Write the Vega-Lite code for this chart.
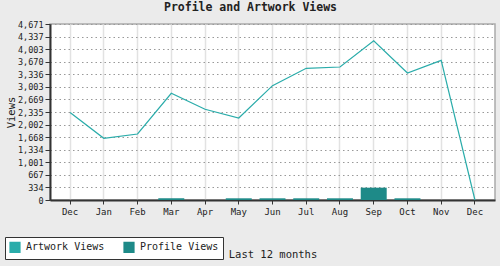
{
  "$schema": "https://vega.github.io/schema/vega-lite/v6.json",
  "width": 445,
  "height": 176,
  "autosize": "none",
  "padding": {"left": 50, "top": 24, "right": 5, "bottom": 66},
  "background": "#ebebeb",
  "title": {"text": "Profile and Artwork Views", "font": "DejaVu Sans Mono", "fontSize": 11.5, "fontWeight": "bold", "color": "#222", "anchor": "middle", "frame": "group", "dx": -22, "offset": 7},
  "config": {
    "font": "DejaVu Sans Mono",
    "view": {"fill": "white", "stroke": "#aaa", "strokeWidth": 1.5}
  },
  "data": {"values": [
    {"i": 0, "series": "Artwork Views", "views": 2320},
    {"i": 1, "series": "Artwork Views", "views": 1637},
    {"i": 2, "series": "Artwork Views", "views": 1752},
    {"i": 3, "series": "Artwork Views", "views": 2832},
    {"i": 4, "series": "Artwork Views", "views": 2407},
    {"i": 5, "series": "Artwork Views", "views": 2176},
    {"i": 6, "series": "Artwork Views", "views": 3034},
    {"i": 7, "series": "Artwork Views", "views": 3495},
    {"i": 8, "series": "Artwork Views", "views": 3530},
    {"i": 9, "series": "Artwork Views", "views": 4228},
    {"i": 10, "series": "Artwork Views", "views": 3371},
    {"i": 11, "series": "Artwork Views", "views": 3707},
    {"i": 12, "series": "Artwork Views", "views": 0},
    {"i": 0, "series": "Profile Views", "views": 0},
    {"i": 1, "series": "Profile Views", "views": 0},
    {"i": 2, "series": "Profile Views", "views": 0},
    {"i": 3, "series": "Profile Views", "views": 45},
    {"i": 4, "series": "Profile Views", "views": 0},
    {"i": 5, "series": "Profile Views", "views": 45},
    {"i": 6, "series": "Profile Views", "views": 45},
    {"i": 7, "series": "Profile Views", "views": 45},
    {"i": 8, "series": "Profile Views", "views": 45},
    {"i": 9, "series": "Profile Views", "views": 327},
    {"i": 10, "series": "Profile Views", "views": 45},
    {"i": 11, "series": "Profile Views", "views": 0},
    {"i": 12, "series": "Profile Views", "views": 0}
  ]},
  "encoding": {
    "x": {
      "field": "i", "type": "ordinal",
      "scale": {"paddingInner": 0.23, "paddingOuter": 0.21},
      "axis": {
        "title": "Last 12 months", "titleFontWeight": "normal", "titleFontSize": 10.5, "titleColor": "#222", "titlePadding": 33,
        "labelExpr": "['Dec','Jan','Feb','Mar','Apr','May','Jun','Jul','Aug','Sep','Oct','Nov','Dec'][datum.value]",
        "labelAngle": 0, "labelFontSize": 9, "labelColor": "#222", "labelPadding": 3,
        "domainColor": "#333", "domainWidth": 2, "tickColor": "#333", "tickSize": 4,
        "grid": true, "gridColor": "#e2e2e2", "gridWidth": 1.5, "bandPosition": 0.5
      }
    },
    "y": {
      "field": "views", "type": "quantitative",
      "scale": {"domain": [0, 4671], "nice": false},
      "axis": {
        "title": "Views", "titleFontWeight": "normal", "titleFontSize": 10.5, "titleColor": "#222", "titlePadding": 1,
        "values": [0, 334, 667, 1001, 1334, 1668, 2002, 2335, 2669, 3003, 3336, 3670, 4003, 4337, 4671],
        "format": ",.0f", "labelFontSize": 8.5, "labelColor": "#222", "labelPadding": 2,
        "domainColor": "#333", "domainWidth": 2, "tickColor": "#333", "tickSize": 5,
        "grid": true, "gridColor": "#999", "gridDash": [1.5, 3], "gridWidth": 1
      }
    }
  },
  "layer": [
    {
      "transform": [{"filter": "datum.series == 'Profile Views'"}],
      "mark": {"type": "bar", "strokeWidth": 0},
      "encoding": {
        "color": {
          "field": "series", "type": "nominal",
          "scale": {"domain": ["Artwork Views", "Profile Views"], "range": ["#2aacaa", "#1e8a88"]},
          "legend": {
            "title": null, "orient": "none", "legendX": -45, "legendY": 213, "direction": "horizontal",
            "symbolType": "square", "symbolSize": 100, "symbolStrokeColor": "#333", "symbolStrokeWidth": 1.2, "symbolOpacity": 1,
            "labelFontSize": 10, "labelColor": "#222", "labelOffset": 5, "columnPadding": 16,
            "fillColor": "white", "strokeColor": "#333", "padding": 4
          }
        }
      }
    },
    {
      "transform": [{"filter": "datum.series == 'Artwork Views'"}],
      "mark": {"type": "line", "strokeWidth": 1.2},
      "encoding": {
        "color": {"field": "series", "type": "nominal", "legend": null}
      }
    }
  ]
}
